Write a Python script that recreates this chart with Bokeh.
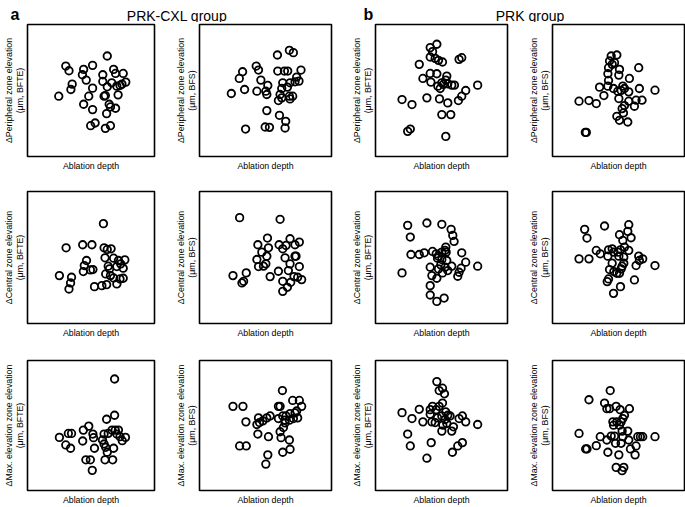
from bokeh.plotting import figure
from bokeh.layouts import column, row
from bokeh.models import Range1d, FixedTicker, Label
from bokeh.embed import file_html
from bokeh.resources import INLINE

FONT = "Liberation Sans"

# ---------------- texts ----------------
panel_letters = ["a", "b"]
group_titles = ["PRK-CXL group", "PRK group"]
x_label = "Ablation depth"
zone_labels = ["\u0394Peripheral zone elevation", "\u0394Central zone elevation",
               "\u0394Max. elevation zone elevation"]
method_labels = ["(\u03bcm, BFTE)", "(\u03bcm, BFS)"]

# ---------------- data (arbitrary units, no ticks shown) ----------------
# Row 1: peripheral zone
cxl_peri_bfte_x = [62.5, 30, 32.5, 44, 51, 67.5, 43, 46, 59, 69, 75, 59, 35, 34, 51, 66, 62.5, 70, 72.5, 77,
                   74, 24.5, 48, 60, 61, 71, 44, 51, 64, 65, 69, 62, 49.5, 53, 61, 65]
cxl_peri_bfte_y = [75, 67.5, 64, 65, 68, 65, 61, 57, 61, 62, 62, 56, 54, 50, 51, 55, 52, 52.5, 53, 55.5,
                   54, 45, 45, 45, 45.5, 46, 39, 35, 39, 37, 36, 32, 23, 25, 21, 23]
cxl_peri_bfs_x = [67.75, 70.75, 58.75, 42.75, 44.5, 32.5, 30, 46.25, 51.5, 59, 64, 66.5, 76.5, 73.25, 75, 72,
                  62.75, 68.25, 62, 66.25, 34, 43.25, 50, 50.75, 24, 60.75, 62, 59.5, 67.75, 70.25, 68.25,
                  50.75, 60.25, 65, 64.5, 49.5, 52.75, 34.75]
cxl_peri_bfs_y = [79.25, 77.5, 75.75, 67.5, 64.5, 63.25, 58.25, 57, 53, 63.75, 63.75, 63.75, 64.5, 59.25,
                  56.25, 55.75, 55, 55, 50.75, 51.75, 50, 48.75, 48.75, 46.25, 47, 46.25, 43.75, 41.75, 45,
                  45, 43, 34.25, 30.75, 26.25, 21.25, 22, 21.75, 20.5]
prk_peri_bfte_x = [46.25, 41.25, 43, 41.25, 45, 47.5, 50.5, 63, 65, 33, 41.25, 46.25, 35.75, 41.75, 53.75, 53,
                   50, 47, 48.75, 54.5, 57.5, 59.5, 77, 68, 65, 62.5, 20, 27.5, 38.75, 48.25, 54.5, 50,
                   56.75, 26.25, 24.25, 53, 51.25]
prk_peri_bfte_y = [83.75, 81.25, 78.25, 74.25, 73.25, 71.75, 70.5, 72.5, 73.75, 68.75, 62, 61.75, 58.25, 55.5,
                   60, 57, 55, 52.5, 50.75, 54.25, 53.25, 53.25, 53.25, 49.25, 45, 41.75, 42.5, 38.75, 43.75,
                   43, 40, 31.25, 31.25, 20.5, 18.75, 15, 53.75]
prk_peri_bfs_x = [44.25, 48.5, 43, 46.75, 45, 42.25, 50.5, 65, 41.75, 50, 42.25, 58, 35.5, 41.75, 46, 49.25,
                  53, 54.25, 51.75, 57.5, 65.5, 77.25, 20, 27.5, 33, 38.75, 50, 57.5, 63, 67.5, 54.25, 52.5,
                  61.75, 53.5, 48.5, 50.5, 56.75, 25.5, 24.75]
prk_peri_bfs_y = [75, 75.75, 71.25, 70, 68.75, 66.25, 65, 66.25, 61.75, 60.75, 56.75, 58.25, 51.75, 52.5,
                  50.75, 48.75, 52.5, 50.75, 49.25, 48.25, 50.75, 49.5, 41.25, 41.75, 39.5, 45.5, 43.25,
                  41.25, 42, 42, 38, 35.75, 37.5, 32.5, 30, 27, 25.75, 18, 18]

# Row 2: central zone
cxl_cent_bfte_x = [59.5, 30.25, 43.25, 50.5, 60, 62.5, 65.5, 46.25, 44.5, 43.75, 49.25, 51.25, 60.75, 67.5,
                   71.25, 76.25, 73, 70, 63.25, 64.25, 75, 61.25, 65, 67.5, 70, 72.5, 75, 25, 34.5, 33.75,
                   32.5, 52.5, 58.25, 62]
cxl_cent_bfte_y = [74.5, 56.5, 58.75, 58.75, 56.5, 55.25, 55.75, 47, 43.25, 38.75, 40, 40.25, 49, 48.75, 47,
                   47.5, 44.5, 42.5, 42.75, 40.75, 41.25, 37, 35.75, 34, 29.5, 33.25, 33.75, 35.75, 34.5,
                   30.25, 25.75, 27.5, 28.25, 29]
cxl_cent_bfs_x = [30.25, 60.75, 51.25, 68.25, 75.25, 72, 44, 52, 60, 62.75, 65.25, 47, 43.25, 50.75, 50,
                  48.25, 44.5, 53.25, 64.5, 72, 72.75, 68.25, 59.5, 67, 75.25, 71.25, 74, 77, 68.75, 62.75,
                  66.25, 62.75, 25.25, 35.25, 33.25, 32]
cxl_cent_bfs_y = [79, 77.75, 63.75, 63.25, 60.75, 58.75, 58.75, 56.5, 58.75, 55.75, 58.25, 53.25, 47.75,
                  50.25, 44.5, 42.75, 42.5, 35, 49, 50.25, 50.25, 44.5, 39, 39.5, 42.5, 35, 34.5, 32.75,
                  30.75, 31.5, 27, 24, 35.75, 37.75, 31.5, 30.25]
prk_cent_bfte_x = [24.25, 38.75, 50, 26.25, 57, 58.25, 59.25, 53, 52.5, 26.75, 33, 36.75, 43, 45.75, 47.5,
                   50, 53.25, 46.75, 50, 53.75, 49.25, 52.5, 57.5, 65, 68, 64.5, 63, 62, 77, 20, 41.25,
                   47.5, 42.5, 46.25, 50.5, 54.5, 41.25, 41.25, 46.25, 51.75]
prk_cent_bfte_y = [73.25, 75, 74, 64.5, 70.25, 65.75, 61.25, 57, 54.5, 51.5, 51.5, 52.75, 53.75, 52, 50.25,
                   53.25, 53.25, 48.75, 47.75, 47, 43.75, 42, 42.75, 52.75, 45.75, 41.25, 38.25, 35.25,
                   42.75, 37.75, 42, 40.75, 35.75, 33.75, 37.75, 39.5, 28.25, 21.25, 16.5, 19]
prk_cent_bfs_x = [24.25, 39.25, 57.5, 56.75, 59.25, 26, 50.5, 53, 54.25, 51.25, 33, 36, 42.25, 45, 46.25,
                  49.25, 41.75, 50, 57.5, 53.75, 20, 27.5, 65, 68, 65.5, 63, 77.25, 45, 53.75, 52.5, 43,
                  46.25, 48.5, 50.5, 51.75, 42.25, 41.25, 61.75, 51.25, 46]
prk_cent_bfs_y = [70.25, 72.75, 73.75, 68.75, 64, 63.75, 66.25, 62, 57, 55, 54.5, 52, 55, 55.75, 53.25,
                  53.25, 50.25, 50.25, 54.5, 49.5, 48.25, 48.25, 50.25, 48.25, 47, 43.25, 43.25, 45, 45,
                  42.75, 40.25, 38.75, 37.5, 37.5, 40.75, 33.25, 31.25, 32.5, 27.5, 22.5]

# Row 3: max. elevation zone
cxl_max_bfte_x = [68.25, 68.25, 62, 48, 43.75, 51.25, 51.75, 25, 32, 34.5, 30, 33.75, 43.25, 60, 63.25,
                  66.25, 68.75, 71.25, 70, 72.5, 76.75, 74.25, 58.75, 60, 61.25, 62.5, 67.5, 52.5, 45.75,
                  49.25, 50.75, 60.75, 66.75]
cxl_max_bfte_y = [84.5, 57, 54, 48.75, 45.75, 42.75, 40, 40.25, 43.25, 43.25, 34.5, 32, 37.5, 42.75, 43.25,
                  45.75, 45.75, 45.75, 42.75, 40.75, 40.25, 37.75, 38.25, 35.25, 32.75, 29, 32, 32, 23.25,
                  23.25, 15.25, 23.25, 23.25]
cxl_max_bfs_x = [62.5, 70.25, 75.25, 77, 25.25, 32.75, 59.5, 60.75, 44.5, 47.75, 50.75, 53.25, 35, 43.25,
                 45.25, 62.75, 65.25, 68.25, 72, 73.25, 74, 70.75, 67.75, 64.5, 63.25, 60.75, 44, 52, 61.5,
                 67.75, 30.25, 35.25, 62.75, 68.25, 51.5, 50, 64.5, 59.5]
cxl_max_bfs_y = [75.75, 68.25, 68.25, 63.75, 63.75, 63.75, 63.75, 63.75, 55, 52.75, 55, 56.5, 52, 50, 51.5,
                 56.5, 56.5, 58.25, 58.75, 60.25, 55, 54.5, 53.25, 51.25, 47.75, 44.5, 42.75, 40.75, 40,
                 38.25, 33.75, 33.75, 29, 31.25, 27, 20, 53.25, 54.5]
prk_max_bfte_x = [46.25, 48, 50.5, 52, 50.5, 48, 43, 41.25, 45.75, 33, 20, 41.25, 46.75, 53, 54.5, 50,
                  56.25, 63, 65.5, 68, 77, 35.75, 27.5, 42.5, 45, 50.75, 53.75, 58.75, 50, 57.5, 24.25,
                  26.25, 42, 38.75, 58, 62, 65.5, 52.5]
prk_max_bfte_y = [82.5, 75.75, 77.5, 73.25, 66.25, 63.75, 63.75, 61.25, 61.25, 61.5, 59, 57.75, 55, 59.5,
                  57, 56.5, 56.5, 54.5, 56.5, 52, 50, 52, 54.5, 52, 51.5, 49.5, 50.75, 48.25, 45, 45,
                  42.75, 33.75, 36.25, 24.5, 29, 33.75, 36.25, 53.75]
prk_max_bfs_x = [43.5, 27.5, 39.25, 41, 43, 48, 51, 58, 54.25, 53, 45.5, 48.5, 51.75, 46, 50.5, 52.5, 56.75,
                 20, 36, 41, 44.25, 46.75, 53, 57.5, 64.25, 66.25, 68, 77.25, 47.5, 51.75, 58.75, 63, 25,
                 26, 33, 41.75, 50, 62.25, 48, 53.75, 52.5]
prk_max_bfs_y = [75.75, 68.75, 66.25, 62, 62, 63.75, 61.25, 62, 57, 54.5, 52, 52, 52, 49.5, 49.5, 45, 45,
                 43.25, 40.75, 38.25, 41.25, 41.25, 40.75, 38.25, 40.75, 40.75, 40.75, 40.75, 35.75, 35.75,
                 31.5, 33.75, 31.5, 31.5, 34, 29, 27, 27, 17.5, 17.5, 15]

rows_data = [
    [(cxl_peri_bfte_x, cxl_peri_bfte_y), (cxl_peri_bfs_x, cxl_peri_bfs_y),
     (prk_peri_bfte_x, prk_peri_bfte_y), (prk_peri_bfs_x, prk_peri_bfs_y)],
    [(cxl_cent_bfte_x, cxl_cent_bfte_y), (cxl_cent_bfs_x, cxl_cent_bfs_y),
     (prk_cent_bfte_x, prk_cent_bfte_y), (prk_cent_bfs_x, prk_cent_bfs_y)],
    [(cxl_max_bfte_x, cxl_max_bfte_y), (cxl_max_bfs_x, cxl_max_bfs_y),
     (prk_max_bfte_x, prk_max_bfte_y), (prk_max_bfs_x, prk_max_bfs_y)],
]

# ---------------- layout ----------------
FRAME_W, FRAME_H = 132, 132
LEFT_BORDERS = [22, 43, 42, 43]
RIGHT_BORDERS = [2, 2, 2, 1]
TOP_BORDER = 2
BOTTOM_BORDERS = [33, 35, 15]
HEADER_H = 22


def make_panel(xs, ys, ylabel, left, right, bottom):
    p = figure(width=left + FRAME_W + right, height=TOP_BORDER + FRAME_H + bottom,
               output_backend="svg", toolbar_location=None, tools="",
               x_range=Range1d(0, 99.5), y_range=Range1d(0, 98.5),
               min_border_left=left, min_border_right=right,
               min_border_top=TOP_BORDER, min_border_bottom=bottom)
    p.grid.visible = False
    p.outline_line_color = "black"
    p.outline_line_width = 1.6
    p.background_fill_color = "white"
    p.border_fill_color = "white"
    for ax in (p.xaxis[0], p.yaxis[0]):
        ax.ticker = FixedTicker(ticks=[])
        ax.axis_line_color = None
        ax.major_tick_line_color = None
        ax.minor_tick_line_color = None
        ax.major_tick_in = 0
        ax.major_tick_out = 0
        ax.minor_tick_in = 0
        ax.minor_tick_out = 0
        ax.major_label_standoff = 0
        ax.major_label_text_font_size = "0px"
        ax.axis_label_text_font = FONT
        ax.axis_label_text_font_size = "8.8px"
        ax.axis_label_text_font_style = "normal"
        ax.axis_label_text_color = "black"
    p.xaxis[0].axis_label = x_label
    p.xaxis[0].axis_label_standoff = 4
    p.yaxis[0].axis_label = ylabel
    p.yaxis[0].axis_label_standoff = 3
    p.yaxis[0].axis_label_text_line_height = 1.05
    p.scatter(xs, ys, marker="circle", size=7.5, fill_color=None,
              line_color="black", line_width=1.8)
    return p


total_w = sum(LEFT_BORDERS) + 4 * FRAME_W + sum(RIGHT_BORDERS)
header = figure(width=total_w, height=HEADER_H, output_backend="svg", toolbar_location=None, tools="",
                x_axis_type=None, y_axis_type=None, x_range=Range1d(0, total_w),
                y_range=Range1d(0, HEADER_H), min_border=0, outline_line_color=None)
header.grid.visible = False
header.border_fill_color = "white"

# frame left edges of the four columns (screen px)
col_left = []
acc = 0
for i in range(4):
    col_left.append(acc + LEFT_BORDERS[i])
    acc += LEFT_BORDERS[i] + FRAME_W + RIGHT_BORDERS[i]
for g in range(2):
    c1 = col_left[2 * g] + FRAME_W / 2
    c2 = col_left[2 * g + 1] + FRAME_W / 2
    header.add_layout(Label(x=(c1 + c2) / 2, y=7, x_units="screen", y_units="screen",
                            text=group_titles[g], text_align="center", text_baseline="alphabetic",
                            text_font=FONT, text_font_size="14px", text_color="black"))
    header.add_layout(Label(x=col_left[2 * g] - 12, y=8, x_units="screen", y_units="screen",
                            text=panel_letters[g], text_align="left", text_baseline="alphabetic",
                            text_font=FONT, text_font_size="16px", text_font_style="bold",
                            text_color="black"))

grid_rows = []
for r in range(3):
    figs = []
    for c in range(4):
        xs, ys = rows_data[r][c]
        ylabel = zone_labels[r] + "\n" + method_labels[c % 2]
        figs.append(make_panel(xs, ys, ylabel, LEFT_BORDERS[c], RIGHT_BORDERS[c], BOTTOM_BORDERS[r]))
    grid_rows.append(row(*figs))

p = column(header, *grid_rows)

open("out.html", "w").write(file_html(p, INLINE))
